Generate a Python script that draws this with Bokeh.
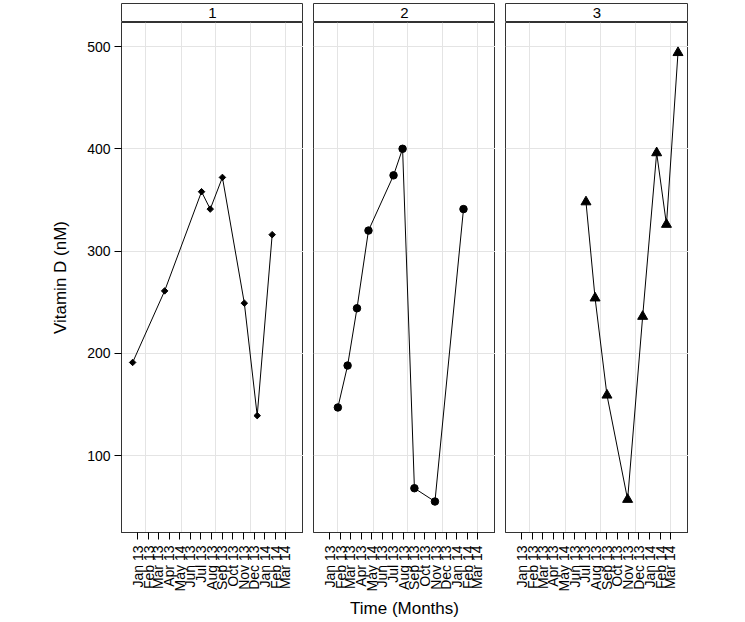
import math
import pandas as pd
from bokeh.plotting import figure
from bokeh.models import Range1d, FixedTicker, LinearAxis, Grid, ColumnDataSource
from bokeh.layouts import row, column
from bokeh.embed import file_html
from bokeh.resources import INLINE
from bokeh.core.properties import value

# ---------------- data ----------------
panel_names = ["1", "2", "3"]

p1_dates = ["2012-12-17", "2013-03-19", "2013-07-03", "2013-07-28", "2013-09-01",
            "2013-11-03", "2013-12-10", "2014-01-22"]
p1_vals = [191, 261, 358, 341, 372, 249, 139, 316]

p2_dates = ["2013-01-24", "2013-02-21", "2013-03-20", "2013-04-22", "2013-07-03",
            "2013-07-29", "2013-09-01", "2013-10-30", "2014-01-20"]
p2_vals = [147, 188, 244, 320, 374, 400, 68, 55, 341]

p3_dates = ["2013-07-03", "2013-07-29", "2013-09-01", "2013-10-30", "2013-12-12",
            "2014-01-21", "2014-02-18", "2014-03-23"]
p3_vals = [348, 254, 159, 57, 236, 396, 326, 494]

month_ticks = ["2013-01-01", "2013-02-01", "2013-03-01", "2013-04-01", "2013-05-01",
               "2013-06-01", "2013-07-01", "2013-08-01", "2013-09-01", "2013-10-01",
               "2013-11-01", "2013-12-01", "2014-01-01", "2014-02-01", "2014-03-01"]
month_labels = ["Jan 13", "Feb 13", "Mar 13", "Apr 13", "May 14", "Jun 13", "Jul 13",
                "Aug 13", "Sep 13", "Oct 13", "Nov 13", "Dec 13", "Jan 14", "Feb 14", "Mar 14"]
grid_dates = ["2013-01-24", "2013-05-06", "2013-08-13", "2013-11-21", "2014-03-01"]
y_ticks = [100, 200, 300, 400, 500]

x_limits = ["2012-11-15", "2014-04-22"]
y_limits = [24.7, 523.5]

# ---------------- helpers ----------------
def ms(d):
    return float(pd.Timestamp(d).value // 10**6)

FONT = "Liberation Sans"
BORDER = "#333333"
GRIDC = "#e4e4e4"
tick_ms = [ms(d) for d in month_ticks]
grid_ms = [ms(d) for d in grid_dates]

series = [
    (p1_dates, p1_vals, "square", 4.6, math.pi / 4),
    (p2_dates, p2_vals, "circle", 7.5, 0.0),
    (p3_dates, p3_vals, "triangle", 10, 0.0),
]
frame_widths = [182, 182, 183]
left_borders = [121, 10, 10]


def drop_default_grids(fig):
    fig.center = [r for r in fig.center if not isinstance(r, Grid)]


def make_strip(i):
    s = figure(frame_width=frame_widths[i], frame_height=19,
               x_range=Range1d(0, 1), y_range=Range1d(0, 1),
               x_axis_location=None, y_axis_location=None,
               output_backend="svg", toolbar_location=None,
               min_border_left=left_borders[i], min_border_right=0,
               min_border_top=3, min_border_bottom=0)
    drop_default_grids(s)
    s.outline_line_color = BORDER
    s.outline_line_width = 1
    s.background_fill_color = "white"
    s.border_fill_color = "white"
    s.text(x=[0.5], y=[0.5], text=[panel_names[i]], text_align="center",
           text_baseline="middle", text_font=value(FONT), text_font_size="15px",
           text_color="black")
    return s


def make_panel(i):
    dates, vals, marker, size, angle = series[i]
    p = figure(frame_width=frame_widths[i], frame_height=510,
               x_range=Range1d(ms(x_limits[0]), ms(x_limits[1])),
               y_range=Range1d(*y_limits),
               x_axis_location=None, y_axis_location=None,
               output_backend="svg", toolbar_location=None,
               min_border_left=left_borders[i], min_border_right=0,
               min_border_top=0, min_border_bottom=0)
    drop_default_grids(p)
    p.outline_line_color = BORDER
    p.outline_line_width = 1
    p.background_fill_color = "white"
    p.border_fill_color = "white"

    p.add_layout(Grid(dimension=0, ticker=FixedTicker(ticks=grid_ms),
                      grid_line_color=GRIDC, grid_line_width=1))
    p.add_layout(Grid(dimension=1, ticker=FixedTicker(ticks=y_ticks),
                      grid_line_color=GRIDC, grid_line_width=1))

    xa = LinearAxis(ticker=FixedTicker(ticks=tick_ms),
                    major_label_overrides={t: l for t, l in zip(tick_ms, month_labels)},
                    major_label_orientation=math.pi / 2,
                    major_label_text_font=FONT, major_label_text_font_size="14px",
                    major_label_text_color="black",
                    major_tick_out=7, major_tick_in=0, minor_tick_out=0, minor_tick_in=0,
                    major_tick_line_color="black", axis_line_color=BORDER,
                    major_label_standoff=6)
    if i == 1:
        xa.axis_label = "Time (Months)"
        xa.axis_label_text_font = FONT
        xa.axis_label_text_font_size = "17px"
        xa.axis_label_text_font_style = "normal"
        xa.axis_label_text_color = "black"
        xa.axis_label_standoff = 5
    p.add_layout(xa, "below")

    if i == 0:
        ya = LinearAxis(ticker=FixedTicker(ticks=y_ticks),
                        major_label_text_font=FONT, major_label_text_font_size="14px",
                        major_label_text_color="black",
                        major_tick_out=7, major_tick_in=0, minor_tick_out=0, minor_tick_in=0,
                        major_tick_line_color="black", axis_line_color=BORDER,
                        major_label_standoff=4,
                        axis_label="Vitamin D (nM)", axis_label_text_font=FONT,
                        axis_label_text_font_size="17px", axis_label_text_font_style="normal",
                        axis_label_text_color="black", axis_label_standoff=14)
        p.add_layout(ya, "left")

    src = ColumnDataSource(dict(x=[ms(d) for d in dates], y=vals))
    p.line("x", "y", source=src, line_color="black", line_width=1)
    p.scatter("x", "y", source=src, marker=marker, size=size, angle=angle,
              fill_color="black", line_color="black")
    return p


cols = [column(make_strip(i), make_panel(i), spacing=0) for i in range(3)]
layout = row(*cols, spacing=0)

open("out.html", "w").write(file_html(layout, INLINE))
